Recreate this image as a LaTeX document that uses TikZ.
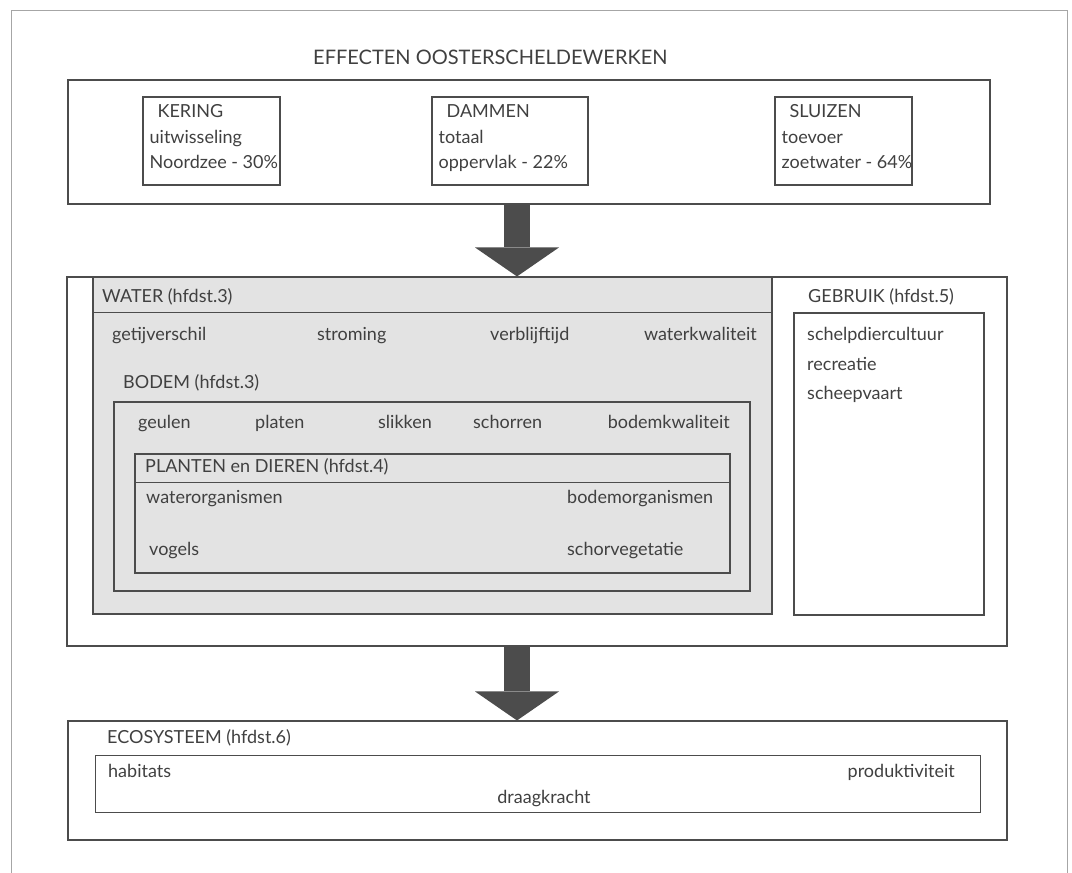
\documentclass[tikz,border=0pt]{standalone}
\usepackage{fontspec}
\setmainfont{Lato}
\usetikzlibrary{shapes,positioning,calc,arrows,arrows.meta,fit}

\begin{document}
\begin{tikzpicture}[x=1pt, y=-1pt,
    every node/.style={font=\fontsize{18}{21}\selectfont, text=black!75},
    box/.style={draw=black!70, line width=1.1pt, inner sep=0pt},
    shadebox/.style={box, fill=black!11},
    txt/.style={anchor=west, inner sep=0pt, text height=13pt, text depth=4pt},
    txtr/.style={txt, anchor=east},
    bigarrow/.style={draw=black!70, line width=26pt,
        -{Triangle[width=84pt, length=29pt, line width=0pt]}}
  ]
    \useasboundingbox (0,0) rectangle (1072,873);
    \draw[black!35, line width=0.6pt] (11,873) -- (11,10) -- (1067,10) -- (1067,873);

    % werken
    \node[txt, font=\fontsize{20}{24}\selectfont] (title) at (313,60) {EFFECTEN OOSTERSCHELDEWERKEN};
    \node[box, fit={(68,80) (990,204)}] (effect) {};
    \foreach \n/\xa/\xb/\hd/\la/\lb in {
        kering/143/280/KERING/uitwisseling/{Noordzee - 30\%},
        dammen/432/588/DAMMEN/totaal/{oppervlak - 22\%},
        sluizen/775/912/SLUIZEN/toevoer/{zoetwater - 64\%}}
    {
        \node[box, fit={(\xa,97) (\xb,185)}] (\n) {};
        \node[txt] (\n_hd) at ($(\n.north west)+(15,17)$) {\hd};
        \node[txt] (\n_a) at ($(\n.north west)+(7,43)$) {\la};
        \node[txt] (\n_b) at ($(\n.north west)+(7,68)$) {\lb};
    }

    % water, bodem, planten en dieren, gebruik
    \node[box, fit={(67,277) (1007,646)}] (mid) {};
    \node[shadebox, fit={(93,277) (772,614)}] (water) {};
    \draw[box] ($(water.north west)+(0,36)$) -- ($(water.north east)+(0,36)$);
    \node[txt] (water_hd) at (102,298) {WATER (hfdst.3)};
    \foreach \t/\x [count=\i] in {getijverschil/112, stroming/317, verblijftijd/490}
        \node[txt] (water_\i) at (\x,336) {\t};
    \node[txtr] (water_4) at (757,336) {waterkwaliteit};

    \node[txt] (bodem_hd) at (123,384) {BODEM (hfdst.3)};
    \node[box, fit={(114,402) (750,591)}] (bodem) {};
    \foreach \t/\x [count=\i] in {geulen/138, platen/255, slikken/378, schorren/473}
        \node[txt] (bodem_\i) at (\x,424) {\t};
    \node[txtr] (bodem_5) at (730,424) {bodemkwaliteit};

    \node[box, fit={(135,454) (730,573)}] (planten) {};
    \draw[box] ($(planten.north west)+(0,29)$) -- ($(planten.north east)+(0,29)$);
    \node[txt] (planten_hd) at (145,468) {PLANTEN en DIEREN (hfdst.4)};
    \node[txt] (planten_1) at (146,499) {waterorganismen};
    \node[txt] (planten_2) at (567,499) {bodemorganismen};
    \node[txt] (planten_3) at (149,551) {vogels};
    \node[txt] (planten_4) at (567,551) {schorvegetatie};

    \node[txt] (gebruik_hd) at (808,298) {GEBRUIK (hfdst.5)};
    \node[box, line width=1.7pt, fit={(794,313) (984,615)}] (gebruik) {};
    \foreach \t/\y [count=\i] in {schelpdiercultuur/336, recreatie/366, scheepvaart/395}
        \node[txt] (gebruik_\i) at (807,\y) {\t};

    % ecosysteem
    \node[box, fit={(68,721) (1007,840)}] (eco) {};
    \node[txt] (eco_hd) at (107,739) {ECOSYSTEEM (hfdst.6)};
    \node[box, line width=0.8pt, fit={(95,755) (980,812)}] (eco_in) {};
    \node[txt] (eco_1) at (108,773) {habitats};
    \node[txtr] (eco_2) at (955,773) {produktiviteit};
    \node[txt, anchor=center] (eco_3) at (544,799) {draagkracht};

    \coordinate (axis) at (517,0);
    \draw[bigarrow] (effect.south -| axis) -- (mid.north -| axis);
    \draw[bigarrow] (mid.south -| axis) -- (eco.north -| axis);

\end{tikzpicture}
\end{document}
